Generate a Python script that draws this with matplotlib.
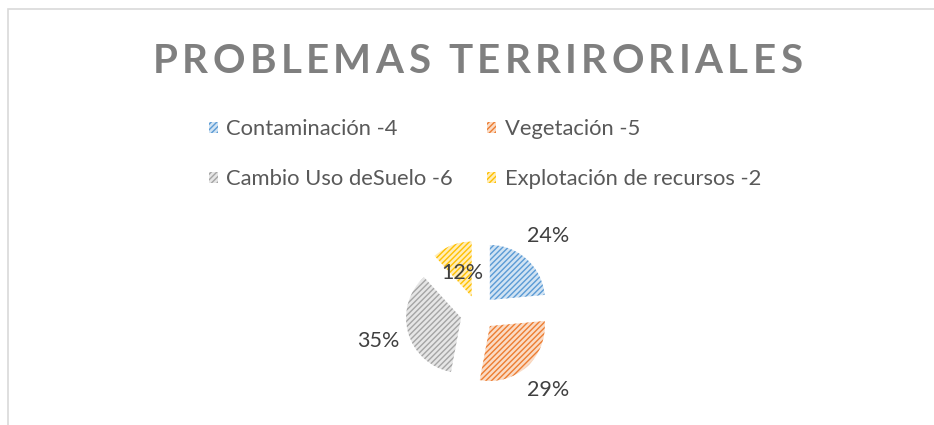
import numpy as np
import matplotlib
matplotlib.use("Agg")
import matplotlib.pyplot as plt
from matplotlib.patches import Rectangle
from matplotlib.colors import to_rgb

categories = ["Contaminación -4", "Vegetación -5", "Cambio Uso deSuelo -6", "Explotación de recursos -2"]
values = [4, 5, 6, 2]
colors = ["#5B9BD5", "#ED7D31", "#A5A5A5", "#FFC000"]
title = "PROBLEMAS TERRIRORIALES"

W, H = 934, 425
plt.rcParams["font.family"] = ["Lato", "DejaVu Sans"]
plt.rcParams["hatch.linewidth"] = 1.0

fig = plt.figure(figsize=(W / 100, H / 100), dpi=100)
fig.patch.set_facecolor("white")

# chart frame (only top/left visible in the crop)
fig.add_artist(Rectangle((8 / W, -0.2), 2, 1.2 - 9 / H, transform=fig.transFigure,
                         fill=False, edgecolor="#d9d9d9", linewidth=1.2))


def tint(c, k=0.72):
    r, g, b = to_rgb(c)
    return (r + (1 - r) * k, g + (1 - g) * k, b + (1 - b) * k)


# pie in an axes scaled so radius 1 == 55 px
R = 55.0
cx, cy = 478.0, 313.0
ax = fig.add_axes([0, 0, 1, 1])
wedges, texts, autotexts = ax.pie(
    values, colors=[tint(c) for c in colors], startangle=90, counterclock=False,
    explode=[0.32] * len(values), radius=1.0,
    autopct=lambda p: f"{p:.0f}%", pctdistance=1.57,
    textprops=dict(fontsize=15.5, color="#404040"),
    wedgeprops=dict(linewidth=0, hatch="//////"))
for w, c in zip(wedges, colors):
    w.set_edgecolor(c)
    w.set_linewidth(0)

# small slice label sits inside the slice
w, t = wedges[3], autotexts[3]
thm = np.deg2rad(0.5 * (w.theta1 + w.theta2))
x0, y0 = w.center
t.set_position((x0 + 0.46 * np.cos(thm), y0 + 0.46 * np.sin(thm)))

ax.set_xlim(-cx / R, (W - cx) / R)
ax.set_ylim(-(H - cy) / R, cy / R)
ax.set_aspect("equal")
ax.axis("off")

# legend, filled row by row like Excel
order = [0, 2, 1, 3]
leg = fig.legend([wedges[i] for i in order], [categories[i] for i in order],
                 ncol=2, loc="center",
                 bbox_to_anchor=(485 / W, 1 - 154 / H), frameon=False,
                 fontsize=15.8, labelcolor="#595959", handlelength=0.4,
                 handleheight=0.4, handletextpad=0.4, columnspacing=1.55,
                 labelspacing=1.36)

# title with letter spacing
fig.canvas.draw()
r = fig.canvas.get_renderer()
tprops = dict(fontsize=29, fontweight="bold", color="#7f7f7f")


def width(s):
    t = fig.text(0, 0, s + "|", **tprops)
    t2 = fig.text(0, 0, "|", **tprops)
    wd = t.get_window_extent(r).width - t2.get_window_extent(r).width
    t.remove()
    t2.remove()
    return wd


left, right = 153, 802
natural = width(title)
spacing = (right - left - natural) / (len(title) - 1)
for i, ch in enumerate(title):
    if ch == " ":
        continue
    x = left + width(title[:i]) + i * spacing
    fig.text(x / W, 1 - 73 / H, ch, ha="left", va="baseline", **tprops)

fig.savefig("out.png", dpi=100)
